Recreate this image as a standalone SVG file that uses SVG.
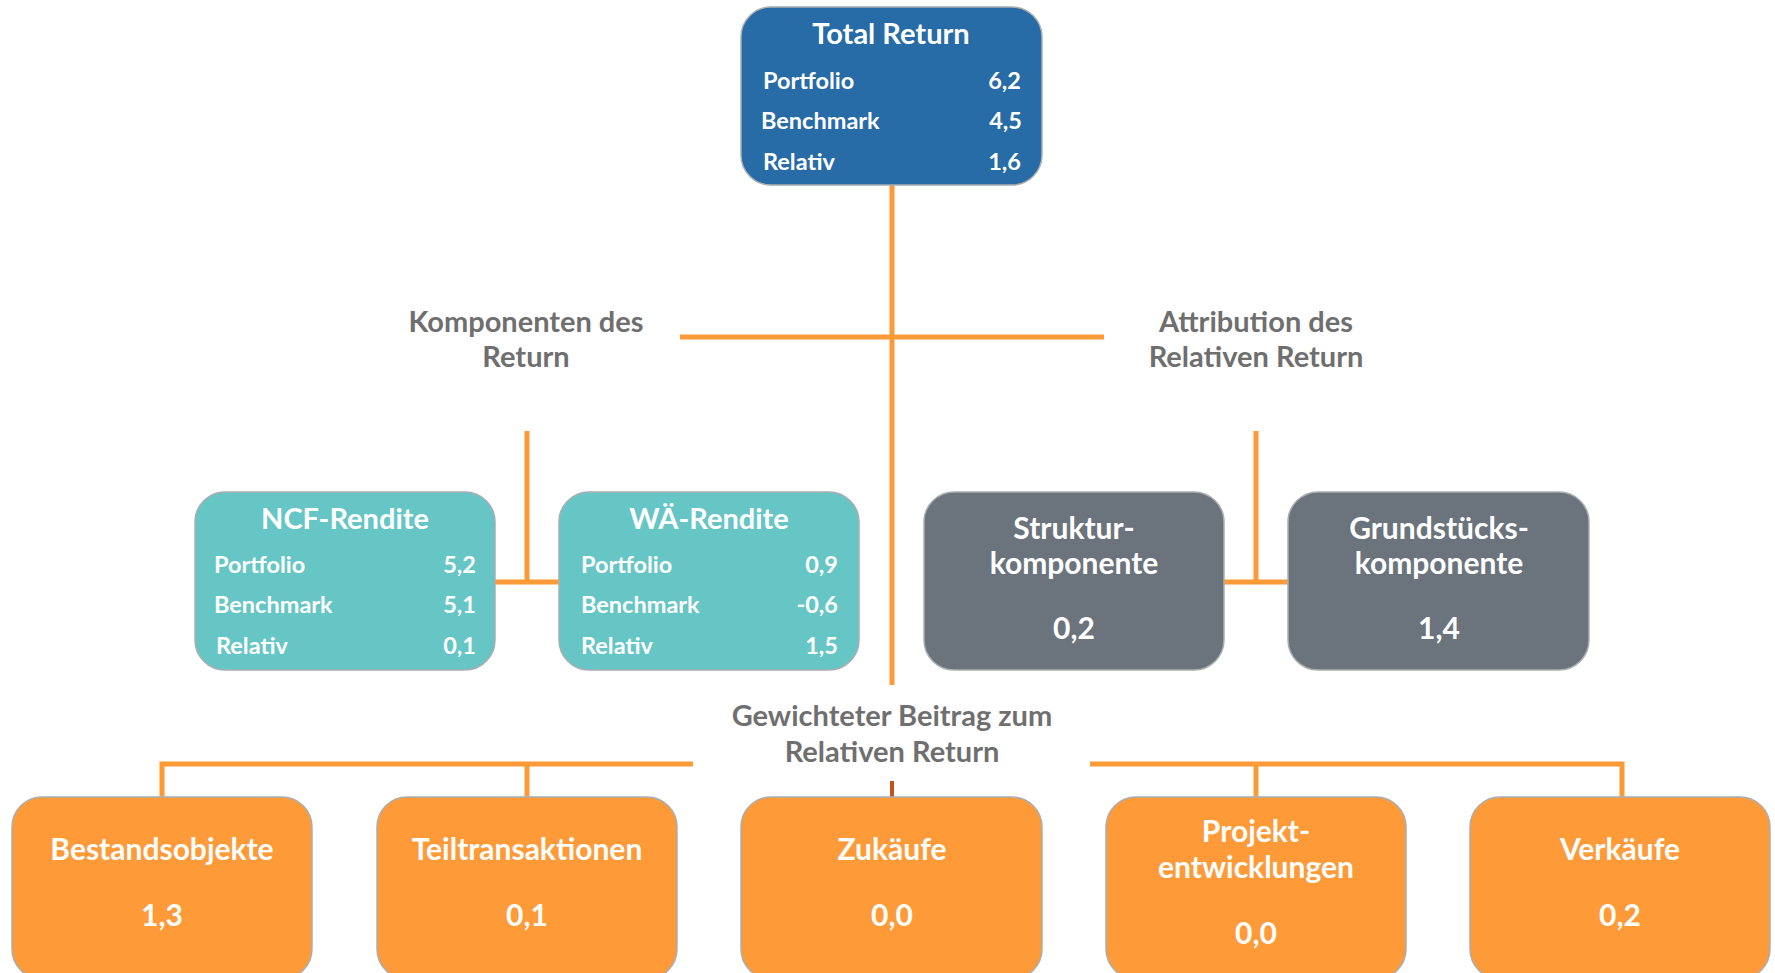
<svg xmlns="http://www.w3.org/2000/svg" width="1775" height="973" viewBox="0 0 1775 973">
<style>
.box{stroke:#a9aeb3;stroke-width:1.5}
.blue{fill:#276ba7}
.teal{fill:#66c6c5}
.gray{fill:#6b737d}
.orange{fill:#fe9a37}
.t{font-family:Lato,"Open Sans","Liberation Sans",sans-serif;font-weight:bold;fill:#ffffff}
.title{font-size:29px;text-anchor:middle}
.row{font-size:23.5px}
.val{font-size:23.5px;text-anchor:end}
.big{font-size:30px;text-anchor:middle}
.lbl{font-family:Lato,"Open Sans","Liberation Sans",sans-serif;font-weight:bold;fill:#6f6f6f;font-size:29px;text-anchor:middle}
.ln{stroke:#fd9a38;stroke-width:5;fill:none}
</style>
<rect width="1775" height="973" fill="#ffffff"/>
<g id="connectors">
<line class="ln" x1="892" y1="185" x2="892" y2="685"/>
<line class="ln" x1="680" y1="337" x2="1104" y2="337"/>
<line class="ln" x1="527" y1="431" x2="527" y2="582"/>
<line class="ln" x1="495" y1="582" x2="559" y2="582"/>
<line class="ln" x1="1256" y1="431" x2="1256" y2="582"/>
<line class="ln" x1="1224" y1="582" x2="1288" y2="582"/>
<polyline class="ln" points="162,797 162,764 693,764"/>
<line class="ln" x1="527" y1="764" x2="527" y2="797"/>
<polyline class="ln" points="1090,764 1622,764 1622,797"/>
<line class="ln" x1="1256" y1="764" x2="1256" y2="797"/>
<line x1="892" y1="781" x2="892" y2="797" stroke="#c4541a" stroke-width="4"/>
</g>
<g id="labels">
<text class="lbl" x="526" y="332">Komponenten des</text>
<text class="lbl" x="526" y="367">Return</text>
<text class="lbl" x="1256" y="332">Attribution des</text>
<text class="lbl" x="1256" y="367">Relativen Return</text>
<text class="lbl" x="892" y="726">Gewichteter Beitrag zum</text>
<text class="lbl" x="892" y="762">Relativen Return</text>
</g>
<g id="total-return">
<rect class="box blue" x="741" y="7" width="301" height="178" rx="30"/>
<text class="t title" x="891" y="44">Total Return</text>
<text class="t row" x="763" y="89">Portfolio</text>
<text class="t val" x="1021" y="89">6,2</text>
<text class="t row" x="761" y="129">Benchmark</text>
<text class="t val" x="1022" y="129">4,5</text>
<text class="t row" x="763" y="170">Relativ</text>
<text class="t val" x="1021" y="170">1,6</text>
</g>
<g id="ncf-rendite">
<rect class="box teal" x="195" y="492" width="300" height="178" rx="30"/>
<text class="t title" x="345" y="529">NCF-Rendite</text>
<text class="t row" x="214" y="573">Portfolio</text>
<text class="t val" x="476" y="573">5,2</text>
<text class="t row" x="214" y="613">Benchmark</text>
<text class="t val" x="476" y="613">5,1</text>
<text class="t row" x="216" y="654">Relativ</text>
<text class="t val" x="476" y="654">0,1</text>
</g>
<g id="wae-rendite">
<rect class="box teal" x="559" y="492" width="300" height="178" rx="30"/>
<text class="t title" x="709" y="529">WÄ-Rendite</text>
<text class="t row" x="581" y="573">Portfolio</text>
<text class="t val" x="838" y="573">0,9</text>
<text class="t row" x="581" y="613">Benchmark</text>
<text class="t val" x="838" y="613">-0,6</text>
<text class="t row" x="581" y="654">Relativ</text>
<text class="t val" x="838" y="654">1,5</text>
</g>
<g id="strukturkomponente">
<rect class="box gray" x="924" y="492" width="300" height="178" rx="30"/>
<text class="t big" x="1074" y="539">Struktur-</text>
<text class="t big" x="1074" y="574">komponente</text>
<text class="t big" x="1074" y="639">0,2</text>
</g>
<g id="grundstueckskomponente">
<rect class="box gray" x="1288" y="492" width="301" height="178" rx="30"/>
<text class="t big" x="1439" y="539">Grundstücks-</text>
<text class="t big" x="1439" y="574">komponente</text>
<text class="t big" x="1439" y="639">1,4</text>
</g>
<g id="bestandsobjekte">
<rect class="box orange" x="12" y="797" width="300" height="182" rx="30"/>
<text class="t big" x="162" y="860">Bestandsobjekte</text>
<text class="t big" x="162" y="926">1,3</text>
</g>
<g id="teiltransaktionen">
<rect class="box orange" x="377" y="797" width="300" height="182" rx="30"/>
<text class="t big" x="527" y="860">Teiltransaktionen</text>
<text class="t big" x="527" y="926">0,1</text>
</g>
<g id="zukaeufe">
<rect class="box orange" x="741" y="797" width="301" height="182" rx="30"/>
<text class="t big" x="892" y="860">Zukäufe</text>
<text class="t big" x="892" y="926">0,0</text>
</g>
<g id="projektentwicklungen">
<rect class="box orange" x="1106" y="797" width="300" height="182" rx="30"/>
<text class="t big" x="1256" y="842">Projekt-</text>
<text class="t big" x="1256" y="878">entwicklungen</text>
<text class="t big" x="1256" y="944">0,0</text>
</g>
<g id="verkaeufe">
<rect class="box orange" x="1470" y="797" width="300" height="182" rx="30"/>
<text class="t big" x="1620" y="860">Verkäufe</text>
<text class="t big" x="1620" y="926">0,2</text>
</g>
</svg>
